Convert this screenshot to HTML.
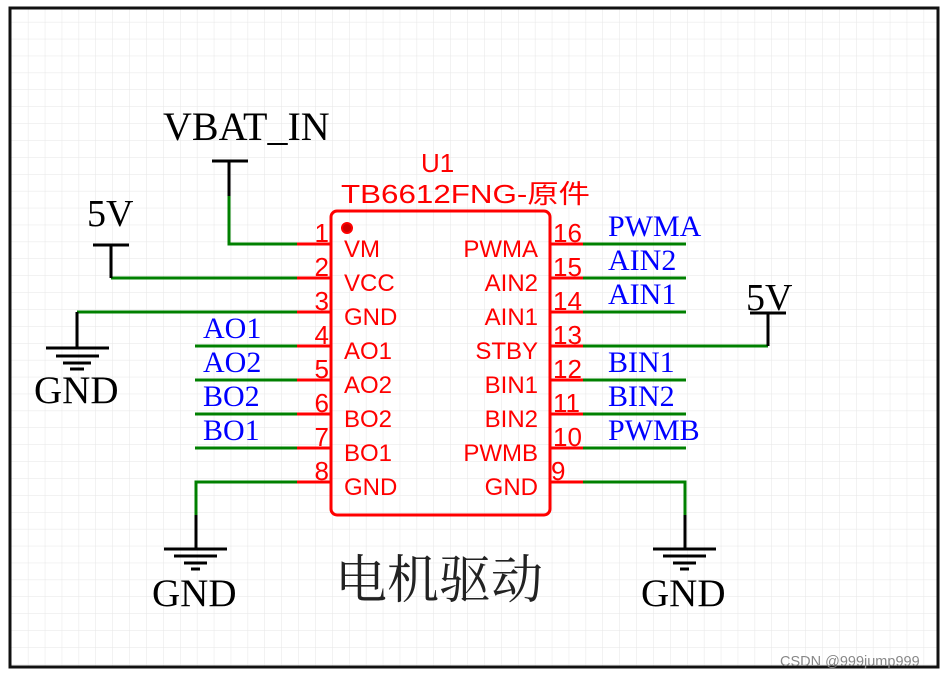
<!DOCTYPE html>
<html><head><meta charset="utf-8"><style>
html,body{margin:0;padding:0;background:#fff}
svg{display:block}
.s{font-family:"Liberation Serif",serif}
.a{font-family:"Liberation Sans","Noto Sans CJK SC",sans-serif}
</style></head><body>
<svg width="950" height="678" viewBox="0 0 950 678" xmlns="http://www.w3.org/2000/svg">
<defs>
<pattern id="g" width="16.9" height="16.9" patternUnits="userSpaceOnUse" x="11" y="5">
<path d="M0 0H16.9M0 0V16.9" stroke="#e6e6e6" stroke-width="1" fill="none"/>
</pattern>
</defs>
<rect width="950" height="678" fill="#fff"/>
<rect x="10" y="8" width="928" height="659" fill="url(#g)"/>
<rect x="10" y="8" width="928" height="659" fill="none" stroke="#111" stroke-width="3"/>

<rect x="331" y="211" width="219" height="304" rx="6" fill="none" stroke="#f00" stroke-width="3"/>
<circle cx="347" cy="228" r="5" fill="#c00" stroke="#f00" stroke-width="2"/>
<text x="421" y="172" class="a" font-size="26" fill="#f00">U1</text>
<text x="341" y="203" class="a" font-size="26" fill="#f00" textLength="249" lengthAdjust="spacingAndGlyphs">TB6612FNG-原件</text>

<g stroke="#f00" stroke-width="3">
<path d="M297 244H331M297 278H331M297 312H331M297 346H331M297 380H331M297 414H331M297 448H331M297 482H331"/>
<path d="M550 244H583M550 278H583M550 312H583M550 346H583M550 380H583M550 414H583M550 448H583M550 482H583"/>
</g>
<g class="a" font-size="24" fill="#f00">
<text x="344" y="257">VM</text><text x="344" y="291">VCC</text><text x="344" y="325">GND</text>
<text x="344" y="359">AO1</text><text x="344" y="393">AO2</text><text x="344" y="427">BO2</text>
<text x="344" y="461">BO1</text><text x="344" y="495">GND</text>
</g>
<g class="a" font-size="24" fill="#f00" text-anchor="end">
<text x="538" y="257">PWMA</text><text x="538" y="291">AIN2</text><text x="538" y="325">AIN1</text>
<text x="538" y="359">STBY</text><text x="538" y="393">BIN1</text><text x="538" y="427">BIN2</text>
<text x="538" y="461">PWMB</text><text x="538" y="495">GND</text>
</g>
<g class="a" font-size="26" fill="#f00" text-anchor="end">
<text x="329" y="242">1</text><text x="329" y="276">2</text><text x="329" y="310">3</text>
<text x="329" y="344">4</text><text x="329" y="378">5</text><text x="329" y="412">6</text>
<text x="329" y="446">7</text><text x="329" y="480">8</text>
</g>
<g class="a" font-size="26" fill="#f00">
<text x="553" y="242">16</text><text x="553" y="276">15</text><text x="553" y="310">14</text>
<text x="553" y="344">13</text><text x="553" y="378">12</text><text x="553" y="412">11</text>
<text x="553" y="446">10</text><text x="551" y="480">9</text>
</g>

<g stroke="#008000" stroke-width="3" fill="none">
<path d="M229 196V244H297"/>
<path d="M111 278H297"/>
<path d="M77 312H297"/>
<path d="M195 346H297M195 380H297M195 414H297M195 448H297"/>
<path d="M297 482H196V515"/>
<path d="M583 244H686M583 278H686M583 312H686M583 414H686M583 448H686M583 380H686"/>
<path d="M583 346H768"/>
<path d="M583 482H685V515"/>
</g>
<g stroke="#000" stroke-width="3" fill="none">
<path d="M212 161H248M229 161V196"/>
<path d="M93 245H129M111 245V278"/>
<path d="M77 312V348M46 348H109M56 356H99M63 363H91M70 369H84"/>
<path d="M196 515V549M164 549H227M174 556H217M184 563H207M191 569H200"/>
<path d="M685 515V549M653 549H716M663 556H706M673 563H696M680 569H689"/>
<path d="M750 313H786M768 313V346"/>
</g>
<g fill="#000" class="s">
<text x="163" y="140" font-size="40">VBAT_IN</text>
<text x="87" y="226" font-size="38">5V</text>
<text x="34" y="403" font-size="39">GND</text>
<text x="152" y="606" font-size="39">GND</text>
<text x="641" y="606" font-size="39">GND</text>
<text x="746" y="310" font-size="38">5V</text>
</g>
<g fill="#00f" class="s" font-size="30">
<text x="203" y="338">AO1</text><text x="203" y="372">AO2</text><text x="203" y="406">BO2</text><text x="203" y="440">BO1</text>
<text x="608" y="236">PWMA</text><text x="608" y="270">AIN2</text><text x="608" y="304">AIN1</text>
<text x="608" y="372">BIN1</text><text x="608" y="406">BIN2</text><text x="608" y="440">PWMB</text>
</g>
<text x="335" y="598" font-family="'Noto Serif CJK SC','Noto Sans CJK SC',serif" font-size="52" fill="#222">电机驱动</text>
<text x="780" y="666" class="a" font-size="14.5" fill="#888">CSDN @999jump999</text>
</svg>
</body></html>
